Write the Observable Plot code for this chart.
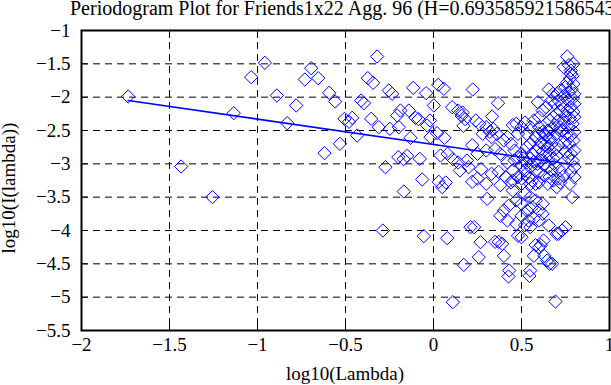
<!DOCTYPE html>
<html><head><meta charset="utf-8">
<script src="https://cdn.jsdelivr.net/npm/d3@7"></script>
<script src="https://cdn.jsdelivr.net/npm/@observablehq/plot@0.6"></script>
<style>body{margin:0;background:#fff;overflow:hidden} svg, svg text{font-family:"Liberation Serif","Times New Roman",serif !important}</style>
</head><body><div id="chart"></div>
<script>
const titleText = "Periodogram Plot for Friends1x22 Agg. 96 (H=0.693585921586543)";
const xLabel = "log10(Lambda)";
const yLabel = "log10(I(lambda))";
const xTicks = [-2, -1.5, -1, -0.5, 0, 0.5, 1];
const xTickLabels = ["\u22122", "\u22121.5", "\u22121", "\u22120.5", "0", "0.5", "1"];
const yTicks = [-5.5, -5, -4.5, -4, -3.5, -3, -2.5, -2, -1.5, -1];
const yTickLabels = ["\u22125.5", "\u22125", "\u22124.5", "\u22124", "\u22123.5", "\u22123", "\u22122.5", "\u22122", "\u22121.5", "\u22121"];

// periodogram points: log10(lambda), log10(I(lambda))
const logLambda = [
-1.735,-1.434,-1.256,-1.135,-1.036,-0.958,-0.89,-0.831,-0.78,-0.731,-0.695,-0.655,-0.619,-0.593,-0.559,-0.532,-0.506,-0.462,-0.48,-0.434,
-0.411,-0.395,-0.373,-0.343,-0.320,-0.354,-0.311,-0.288,-0.273,-0.254,-0.248,-0.235,-0.206,-0.197,-0.188,-0.20,-0.17,-0.169,-0.15,-0.14,
-0.131,-0.115,-0.102,-0.085,-0.078,-0.064,-0.055,-0.042,-0.036,-0.02,-0.017,0.002,0.02,0.027,0.03,0.04,0.05,0.059,0.062,0.078,
0.08,0.106,0.11,0.11,0.14,0.14,0.15,0.16,0.165,0.17,0.172,0.18,0.19,0.2,0.21,0.22,0.22,0.223,0.231,0.24,
0.25,0.25,0.257,0.26,0.267,0.27,0.28,0.3,0.3,0.3,0.305,0.32,0.33,0.333,0.33,0.34,0.35,0.36,0.367,0.37,
0.37,0.38,0.38,0.39,0.4,0.4,0.41,0.42,0.42,0.426,0.43,0.43,0.44,0.44,0.45,0.45,0.45,0.45,0.46,0.46,
0.47,0.47,0.48,0.48,0.48,0.48,0.5,0.5,0.5,0.5,0.5,0.5,0.5,0.5,0.51,0.52,0.52,0.52,0.53,0.53,
0.53,0.53,0.54,0.54,0.545,0.55,0.55,0.55,0.55,0.55,0.55,0.55,0.55,0.56,0.56,0.56,0.57,0.57,0.57,0.57,
0.58,0.58,0.58,0.58,0.58,0.58,0.59,0.593,0.6,0.6,0.6,0.6,0.6,0.6,0.6,0.6,0.61,0.61,0.62,0.62,
0.62,0.62,0.63,0.63,0.63,0.63,0.63,0.64,0.64,0.64,0.65,0.65,0.65,0.65,0.655,0.655,0.66,0.66,0.66,0.66,
0.66,0.67,0.67,0.67,0.67,0.68,0.68,0.68,0.68,0.68,0.69,0.69,0.69,0.69,0.693,0.7,0.7,0.7,0.7,0.7,
0.71,0.71,0.71,0.71,0.71,0.72,0.72,0.72,0.72,0.72,0.73,0.73,0.73,0.74,0.74,0.74,0.74,0.745,0.75,0.75,
0.75,0.75,0.755,0.76,0.76,0.76,0.765,0.765,0.765,0.77,0.77,0.77,0.775,0.775,0.775,0.78,0.78,0.78,0.78,0.78,
0.78,0.785,0.788,0.79,0.79,0.79,0.79,0.795,0.795,0.795,0.795,0.8,0.8,0.8,0.8,0.8,0.8,0.8,
0.07,0.38,0.4,0.42,0.47,0.52,0.6,0.62,0.35,0.61,0.625,0.646,0.674,0.70
];
const logI = [
-1.99,-3.04,-3.5,-2.24,-1.70,-1.485,-1.975,-2.39,-2.125,-1.735,-1.565,-1.715,-2.84,-1.935,-2.065,-2.70,-2.325,-2.31,-2.37,-2.575,
-2.05,-2.09,-1.715,-1.785,-1.39,-2.325,-2.45,-4.0,-3.05,-1.90,-2.475,-1.95,-2.275,-2.45,-2.20,-2.90,-2.93,-3.415,-2.88,-2.20,
-2.61,-1.86,-2.31,-2.33,-2.925,-3.235,-4.085,-1.94,-2.425,-2.35,-2.60,-2.125,-2.54,-1.815,-3.27,-2.875,-3.35,-1.875,-2.61,-4.115,
-2.85,-2.15,-2.93,-5.075,-2.2,-2.98,-3.1,-2.28,-2.23,-2.43,-4.515,-2.33,-2.95,-3.05,-3.95,-2.72,-3.27,-1.885,-3.95,-2.35,
-2.85,-3.22,-4.40,-2.4,-4.175,-3.08,-2.55,-2.45,-2.8,-3.3,-3.525,-2.52,-2.6,-2.29,-3.15,-2.48,-2.78,-2.55,-2.09,-3.12,
-4.17,-2.85,-3.32,-4.2,-2.65,-4.38,-3.2,-2.6,-2.98,-4.69,-3.62,-4.6,-2.7,-3.28,-2.42,-3.1,-3.4,-3.25,-2.8,-2.95,
-2.4,-3.55,-2.55,-2.9,-3.2,-4.08,-2.45,-2.85,-3.02,-3.3,-3.6,-3.78,-4.1,-3.22,-2.92,-2.38,-3.1,-3.45,-2.55,-2.75,
-2.98,-3.7,-3.2,-3.85,-4.68,-2.45,-2.7,-2.92,-3.05,-3.3,-3.5,-3.95,-4.6,-2.85,-3.25,-3.65,-2.35,-2.97,-3.82,-4.38,
-2.6,-2.8,-3.1,-3.3,-3.55,-4.22,-3.0,-2.075,-2.3,-2.45,-2.55,-2.75,-3.12,-3.28,-3.7,-4.25,-2.68,-2.95,-2.2,-2.52,
-2.82,-3.6,-2.55,-2.72,-3.02,-3.18,-4.38,-2.15,-2.58,-2.9,-2.5,-2.75,-3.05,-3.3,-1.885,-3.925,-2.35,-2.62,-2.85,-3.2,
-4.5,-2.05,-2.48,-2.7,-3.1,-1.95,-2.3,-2.6,-2.92,-3.25,-2.1,-2.42,-2.78,-3.02,-5.065,-1.95,-2.25,-2.55,-2.88,-3.35,
-2.05,-2.35,-2.72,-3.22,-4.05,-1.9,-2.2,-2.45,-3.1,-3.28,-2.12,-2.5,-4.0,-1.55,-1.98,-2.38,-3.18,-2.68,-1.85,-2.28,
-2.82,-3.95,-2.55,-1.39,-1.78,-2.2,-2.05,-2.45,-2.9,-1.52,-1.93,-2.7,-1.72,-2.32,-3.3,-1.6,-1.65,-2.15,-2.58,-2.85,
-3.12,-1.88,-3.5,-1.68,-2.02,-2.4,-2.95,-1.5,-1.8,-2.22,-2.65,-1.95,-2.1,-2.3,-2.52,-2.8,-3.05,-3.2,
-3.28,-3.78,-3.7,-3.85,-3.9,-3.92,-3.85,-3.75,-4.17,-4.22,-4.15,-4.45,-4.5,-4.05
];
// least-squares fit line over the low frequencies
const fitX = [-1.735, 0.788];
const fitY = [-2.05, -3.01];

const points = logLambda.map((x, i) => ({x, y: logI[i]}));
const fit = fitX.map((x, i) => ({x, y: fitY[i]}));
const blue = "#0000ff";
const fmtX = d => xTickLabels[xTicks.indexOf(d)];
const fmtY = d => yTickLabels[yTicks.indexOf(d)];
const dash = "7,5";
const serif = "'Liberation Serif', 'Times New Roman', serif";

const svg = Plot.plot({
  width: 611,
  height: 385,
  marginLeft: 81,
  marginRight: 2,
  marginTop: 30,
  marginBottom: 55,
  style: {fontFamily: serif, fontSize: "19px", background: "white", color: "black"},
  x: {domain: [xTicks[0], xTicks[xTicks.length - 1]]},
  y: {domain: [yTicks[0], yTicks[yTicks.length - 1]]},
  marks: [
    Plot.ruleX(xTicks.slice(1, -1), {stroke: "black", strokeDasharray: dash, strokeWidth: 1}),
    Plot.ruleY(yTicks.slice(1, -1), {stroke: "black", strokeDasharray: dash, strokeWidth: 1}),
    Plot.dot(points, {x: "x", y: "y", symbol: "diamond2", r: 6, stroke: blue, fill: "none", strokeWidth: 1}),
    Plot.line(fit, {x: "x", y: "y", stroke: blue, strokeWidth: 1.6}),
    Plot.frame({stroke: "black", strokeWidth: 2}),
    Plot.axisX(xTicks, {anchor: "bottom", tickSize: -7, tickFormat: () => "", label: null}),
    Plot.axisX(xTicks, {anchor: "top", tickSize: -7, tickFormat: () => "", label: null}),
    Plot.axisY(yTicks, {anchor: "left", tickSize: -7, tickFormat: () => "", label: null}),
    Plot.axisY(yTicks, {anchor: "right", tickSize: -7, tickFormat: () => "", label: null}),
    Plot.axisX(xTicks, {anchor: "bottom", tickSize: 0, tickPadding: 7, tickFormat: fmtX, label: null}),
    Plot.axisY(yTicks, {anchor: "left", tickSize: 0, tickPadding: 11, tickFormat: fmtY, label: null})
  ]
});
svg.setAttribute("font-family", serif);
document.getElementById("chart").appendChild(svg);

const s = d3.select(svg);
s.append("text").attr("x", 70).attr("y", 15).attr("text-anchor", "start").attr("font-family", serif).attr("font-size", 20).attr("fill", "black").text(titleText);
s.append("text").attr("x", 345).attr("y", 380).attr("text-anchor", "middle").attr("font-family", serif).attr("font-size", 19).attr("fill", "black").text(xLabel);
s.append("text").attr("transform", "translate(15,188) rotate(-90)").attr("text-anchor", "middle").attr("font-family", serif).attr("font-size", 19).attr("fill", "black").text(yLabel);
</script>
</body></html>
